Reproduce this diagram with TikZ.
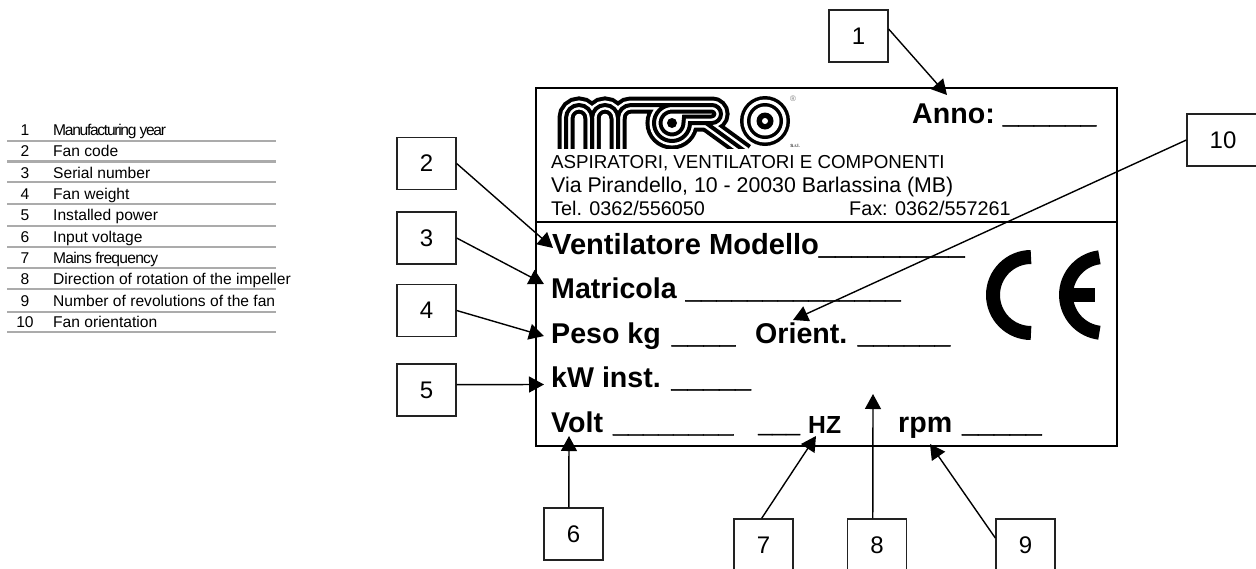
\documentclass[tikz,border=0pt]{standalone}
\usepackage{fontspec}
\setmainfont{Liberation Sans}
\usetikzlibrary{arrows.meta, positioning}
\definecolor{rulegray}{HTML}{ABABAB}
\definecolor{boxgray}{HTML}{222222}
\newcommand{\blanks}[1]{{\addfontfeature{FakeBold=1.6}#1}}
\tikzset{
  numbox/.style={draw=boxgray, line width=1.3pt, minimum width=59pt, minimum height=52pt, inner sep=0pt, font=\fontsize{24}{24}\selectfont},
  callout/.style={-{Triangle[length=15pt,width=16pt]}, line width=1.4pt},
  plate/.style={anchor=base west, inner sep=0pt, font=\fontsize{28.6}{28.6}\selectfont\bfseries},
  addr/.style={anchor=base west, inner sep=0pt, font=\fontsize{19.8}{19.8}\selectfont},
  legnum/.style={inner sep=0pt, font=\fontsize{15.6}{15.6}\selectfont},
  legtxt/.style={anchor=base west, inner sep=0pt, font=\fontsize{15.6}{15.6}\selectfont},
}
\begin{document}
\begin{tikzpicture}[x=1pt, y=-1pt]
\useasboundingbox (0,0) rectangle (1256,568);
\clip (0,0) rectangle (1256,568);
% Legend table
\foreach \base/\liney/\txt [count=\i] in {
  135/141/{\addfontfeature{LetterSpace=-8.3}Manufacturing year},
  156/161.5/Fan code,
  178/182/Serial number,
  199/204/Fan weight,
  220.5/226/Installed power,
  242/247/Input voltage,
  263/268/{\addfontfeature{LetterSpace=-4.7}Mains frequency},
  284/289/Direction of rotation of the impeller,
  306/312/Number of revolutions of the fan,
  327/332/Fan orientation
} {
  \node[legtxt] (leg\i) at (53,\base) {\txt};
  \node[legnum, anchor=base] (num\i) at (25,\base) {\i};
  \draw[rulegray, line width=2.4pt] (7,\liney) -- (276,\liney);
}
% Plate frame
\draw[line width=1.8pt] (536,88) rectangle (1117,446);
\draw[line width=1.8pt] (536,222) -- (1117,222);
% Logo
\begin{scope}
\clip (556,96) rectangle (800,148.5);
\foreach \w/\c in {17/black, 9/white, 4/black} {
  \draw[\c, line width=\w pt] (566,150) -- (566,118) arc[start angle=180, end angle=360, radius=13] -- (592,150);
  \draw[\c, line width=\w pt] (592,150) -- (592,118) arc[start angle=180, end angle=360, radius=13] -- (618,150);
  \draw[\c, line width=\w pt] (706,123) -- (746,152);
  \draw[\c, line width=\w pt] (618,118) arc[start angle=180, end angle=270, radius=13] -- (672,105) arc[start angle=270, end angle=0, radius=18] -- (712,123) arc[start angle=90, end angle=-90, radius=9] -- (672,105);
}
\fill (672,123) circle[radius=5];
\foreach \r/\c in {25/black, 21.5/white, 18/black, 14.5/white, 8.5/black, 3/white} {
  \fill[\c] (765,121) circle[radius=\r];
}
\end{scope}
\node[anchor=center, inner sep=0pt, text=gray, font=\fontsize{8}{8}\selectfont] (regmark) at (793,99) {®};
\node[anchor=center, inner sep=0pt, text=black!80, font=\fontsize{4.5}{4.5}\selectfont\bfseries] (srl) at (795,146) {S.r.l.};
% Address lines
\node[addr, font=\fontsize{18.75}{18.75}\selectfont] (aspir) at (551,168) {ASPIRATORI, VENTILATORI E COMPONENTI};
\node[addr, font=\fontsize{21.3}{21.3}\selectfont] (via) at (551,192) {Via Pirandello, 10 - 20030 Barlassina (MB)};
\node[addr] (tel) at (551,215) {Tel. 0362/556050};
\node[addr] (fax) at (849,215) {Fax: 0362/557261};
% Plate fields
\node[plate] (anno) at (912,123) {Anno:\kern8pt{\fontsize{28}{28}\selectfont\blanks{\_\_\_\_\_\_}}};
\node[plate, font=\fontsize{29.1}{29.1}\selectfont\bfseries] (model) at (552,254) {Ventilatore Modello\blanks{\_\_\_\_\_\_\_\_\_}};
\node[plate] (matr) at (551,298) {Matricola \kern1pt{\fontsize{27.6}{27.6}\selectfont\blanks{\_\_\_\_\_\_\_\_\_\_\_\_\_\_}}};
\node[plate] (peso) at (551,343) {Peso kg \kern3pt\blanks{\_\_\_\_}};
\node[plate] (orient) at (755,343) {Orient. {\fontsize{27.6}{27.6}\selectfont\blanks{\_\_\_\_\_\_}}};
\node[plate] (kw) at (551,387) {kW inst. \blanks{\_\_\_\_\_}};
\node[plate] (volt) at (551,432) {Volt};
\node[plate, font=\fontsize{27}{27}\selectfont\bfseries] (voltline) at (613,432) {\blanks{\_\_\_\_\_\_\_\_}};
\node[plate, font=\fontsize{25}{25}\selectfont\bfseries] (hzline) at (758,432) {\blanks{\_\_\_}};
\node[plate, font=\fontsize{24.7}{24.7}\selectfont\bfseries] (hz) at (808,433) {HZ};
\node[plate] (rpm) at (898,432) {rpm \kern2pt\blanks{\_\_\_\_\_}};
% CE mark
\draw[line width=14pt] (1031,257) arc[start angle=-90, end angle=-270, radius=38];
\draw[line width=14pt] (1099.4,257.3) arc[start angle=-97, end angle=-263, radius=38];
\fill (1066,288) rectangle (1095,302);
% Number boxes
\node[numbox] (b1) at (858.5,36) {1};
\node[numbox] (b2) at (426.5,163.5) {2};
\node[numbox] (b3) at (426.5,238) {3};
\node[numbox] (b4) at (426.5,310.5) {4};
\node[numbox] (b5) at (426.5,390) {5};
\node[numbox] (b6) at (573.5,534) {6};
\node[numbox] (b7) at (763.5,545) {7};
\node[numbox] (b8) at (877,545) {8};
\node[numbox] (b9) at (1025.5,545) {9};
\node[numbox, minimum width=72pt] (b10) at (1223,140) {10};
% Arrow tips
\coordinate (t1) at (947,95);
\coordinate (t2) at (553,248);
\coordinate (t3) at (544,284);
\coordinate (t4) at (544,336);
\coordinate (t5) at (544,384.5);
\coordinate (t6) at (569,436);
\coordinate (t7) at (816,436);
\coordinate (t8) at (873,394);
\coordinate (t9) at (930,444);
\coordinate (t10) at (793,320);
\foreach \from/\to in {b1.13/t1, b2.east/t2, b3.east/t3, b4.east/t4, b5.10/t5, b6.100/t6, b7.94/t7, b8.99/t8, b9.167/t9, b10.west/t10} {
  \draw[callout] (\from) -- (\to);
}
\end{tikzpicture}
\end{document}
